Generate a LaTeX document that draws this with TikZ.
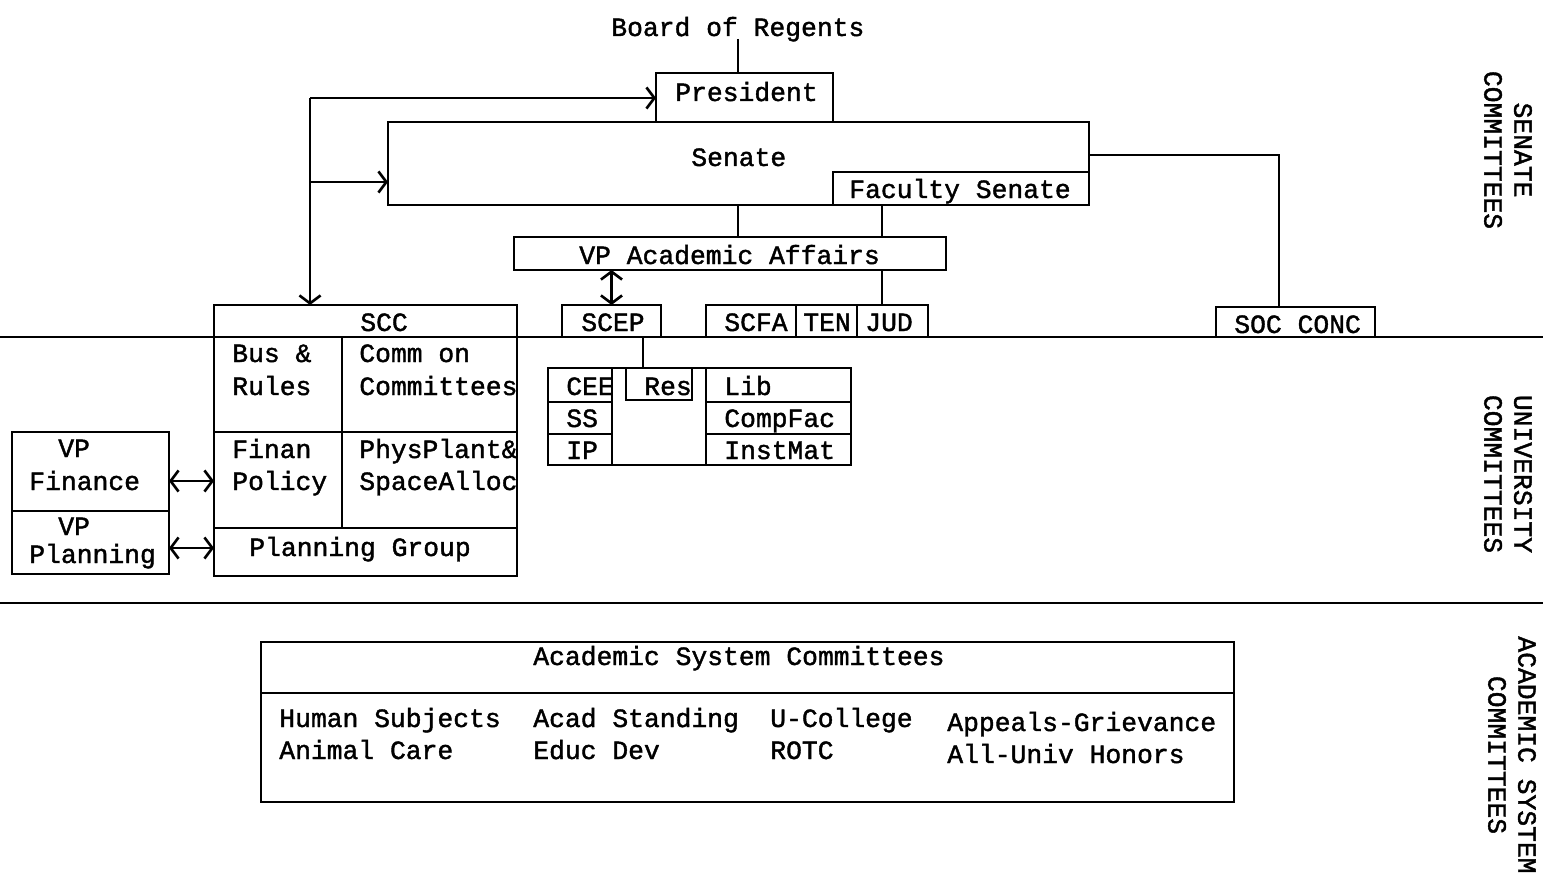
\documentclass[tikz,border=0pt]{standalone}
\usepackage{fontspec}
\setmonofont{Liberation Mono}[FakeBold=1.5]
\usetikzlibrary{arrows.meta,calc}
\newcommand{\bx}[5]{\node[box, minimum width={(#4-#2)*0.02cm}, minimum height={(#5-#3)*0.02cm}] (#1) at ({(#2+#4)/2},{(#3+#5)/2}) {};}
\begin{document}
\begin{tikzpicture}[x=0.02cm, y=-0.02cm, line width=1.5pt,
  >={Straight Barb[length=4.5pt,width=12pt]},
  box/.style={draw, rectangle, inner sep=0pt, outer sep=0pt},
  txt/.style={anchor=base west, inner sep=0pt, font=\ttfamily\fontsize{15}{18}\selectfont},
  side/.style={rotate=-90, align=center, inner sep=0pt, font=\ttfamily\fontsize{15}{17}\selectfont}]
\useasboundingbox (0,0) rectangle (1543,882);

% section dividers
\draw (0,337) -- (1543,337);
\draw (0,603) -- (1543,603);

% top level
\node[txt] (tbor) at (610,36) {Board of Regents};
\bx{pres}{656}{73}{833}{122}
\node[txt] (tpres) at (674,101) {President};
\bx{senate}{388}{122}{1089}{205}
\node[txt] (tsen) at (690,166) {Senate};
\bx{facsen}{833}{172}{1089}{205}
\node[txt] (tfac) at (848,198) {Faculty Senate};
\bx{vpaa}{514}{237}{946}{270}
\node[txt] (tvpaa) at (578,264) {VP Academic Affairs};

% senate committees
\bx{scep}{562}{305}{661}{337}
\node[txt] (tscep) at (580,331) {SCEP};
\bx{scfa}{706}{305}{796}{337}
\node[txt] (tscfa) at (723,331) {SCFA};
\bx{ten}{796}{305}{857}{337}
\node[txt] (tten) at (802,331) {TEN};
\bx{jud}{857}{305}{928}{337}
\node[txt] (tjud) at (864,331) {JUD};
\bx{soc}{1216}{307}{1375}{337}
\node[txt] (tsoc) at (1233,333) {SOC CONC};

% SCC
\bx{scc}{214}{305}{517}{576}
\draw (214,337) -- (517,337);
\draw (342,337) -- (342,528);
\draw (214,432) -- (517,432);
\draw (214,528) -- (517,528);
\node[txt] (tscc) at (359,331) {SCC};
\node[txt] (tbus) at (231,362) {Bus \&};
\node[txt] (trul) at (231,395) {Rules};
\node[txt] (tcomm) at (358,362) {Comm on};
\node[txt] (tcomm2) at (358,395) {Committees};
\node[txt] (tfin) at (231,458) {Finan};
\node[txt] (tpol) at (231,490) {Policy};
\node[txt] (tphys) at (358,458) {PhysPlant\&};
\node[txt] (tspace) at (358,490) {SpaceAlloc};
\node[txt] (tplan) at (248,556) {Planning Group};

% VP finance / planning
\bx{vpf}{12}{432}{169}{511}
\bx{vpp}{12}{511}{169}{574}
\node[txt] (tvp1) at (57,457) {VP};
\node[txt] (tfinance) at (28,490) {Finance};
\node[txt] (tvp2) at (57,535) {VP};
\node[txt] (tplanning) at (28,563) {Planning};

% university committees group
\bx{grp}{548}{368}{851}{465}
\draw (612,368) -- (612,465);
\draw (706,368) -- (706,465);
\draw (548,402) -- (612,402);
\draw (548,434) -- (612,434);
\draw (706,402) -- (851,402);
\draw (706,434) -- (851,434);
\bx{res}{626}{368}{692}{400}
\node[txt] (tcee) at (565,395) {CEE};
\node[txt] (tss) at (565,427) {SS};
\node[txt] (tip) at (565,459) {IP};
\node[txt] (tres) at (643,395) {Res};
\node[txt] (tlib) at (723,395) {Lib};
\node[txt] (tcomp) at (723,427) {CompFac};
\node[txt] (tinst) at (723,459) {InstMat};

% academic system committees
\bx{asc}{261}{642}{1234}{802}
\draw (asc.west |- 0,693) -- (asc.east |- 0,693);
\node[txt] (tasc) at (532,665) {Academic System Committees};
\node[txt] (th1) at (278,727) {Human Subjects};
\node[txt] (th2) at (278,759) {Animal Care};
\node[txt] (ta1) at (532,727) {Acad Standing};
\node[txt] (ta2) at (532,759) {Educ Dev};
\node[txt] (tu1) at (769,727) {U-College};
\node[txt] (tu2) at (769,759) {ROTC};
\node[txt] (tg1) at (946,731) {Appeals-Grievance};
\node[txt] (tg2) at (946,763) {All-Univ Honors};

% side labels
\node[side] (lsen) at (1508,150) {SENATE\\COMMITTEES};
\node[side] (luni) at (1508,474) {UNIVERSITY\\COMMITTEES};
\node[side] (lacad) at (1512,755) {ACADEMIC SYSTEM\\COMMITTEES};

% connectors
\coordinate (bt) at (738,39);
\draw (bt) -- (bt |- pres.north);
\coordinate (lc) at (310,98);
\coordinate (lb) at (310,182);
\draw[->] (lc) -- (lc -| pres.west);
\draw[->] (lc) -- (lc |- scc.north);
\draw[->] (lb) -- (lb -| senate.west);
\draw (senate.east |- 0,155) -| (1279,0 |- soc.north);
\draw (738,0 |- senate.south) -- (738,0 |- vpaa.north);
\draw (882,0 |- facsen.south) -- (882,0 |- vpaa.north);
\draw (882,0 |- vpaa.south) -- (882,0 |- jud.north);
\draw[<->] (scep.north |- vpaa.south) -- (scep.north);
\draw (643,0 |- scep.south) -- (643,0 |- grp.north);
\draw[<->] (vpf.east |- 0,481) -- (scc.west |- 0,481);
\draw[<->] (vpp.east |- 0,548) -- (scc.west |- 0,548);
\end{tikzpicture}
\end{document}
